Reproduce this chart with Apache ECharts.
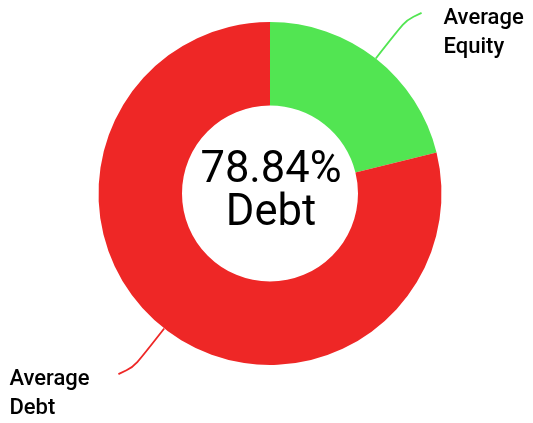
<!DOCTYPE html>
<html><head><meta charset="utf-8">
<script src="https://cdn.jsdelivr.net/npm/echarts@6/dist/echarts.min.js"></script>
<style>html,body{margin:0;padding:0;background:#fff}#c{width:533px;height:423px}</style>
</head><body><div id="c"></div>
<script>
const categories = ['Average Equity', 'Average Debt'];
const labelLines = [['Average', 'Equity'], ['Average', 'Debt']];
const values = [21.16, 78.84];
const colors = ['#52e552', '#ee2726'];
const centerValue = '78.84%';
const centerName = 'Debt';

const FONT = 'Roboto';
const chart = echarts.init(document.getElementById('c'), null, {renderer: 'canvas'});
chart.setOption({
  animation: false,
  backgroundColor: '#fff',
  title: {
    text: centerValue + '\n' + centerName,
    left: 271, top: 149, textAlign: 'center', padding: 0,
    textStyle: {fontFamily: FONT, fontSize: 43.5, fontWeight: 'normal', color: '#000', lineHeight: 43.3}
  },
  series: [{
    type: 'pie',
    center: [270, 193.5],
    radius: [88, 171.5],
    startAngle: 90,
    clockwise: true,
    avoidLabelOverlap: false,
    itemStyle: {borderColor: '#fff', borderWidth: 0},
    label: {
      show: true,
      position: 'outside',
      formatter: p => labelLines[p.dataIndex].map(s => '{t|' + s + '}').join('\n'),
      rich: {t: {fontFamily: FONT, fontSize: 22, fontWeight: 500, color: '#000', lineHeight: 28.5, width: 87, align: 'left'}},
      padding: [40, 0, 0, 0],
      distanceToLabelLine: 22
    },
    labelLine: {show: true, length: 58, length2: 10, smooth: 1, lineStyle: {width: 1.8}},
    data: categories.map((c, i) => ({name: c, value: values[i], itemStyle: {color: colors[i]}}))
  }]
});
</script></body></html>
